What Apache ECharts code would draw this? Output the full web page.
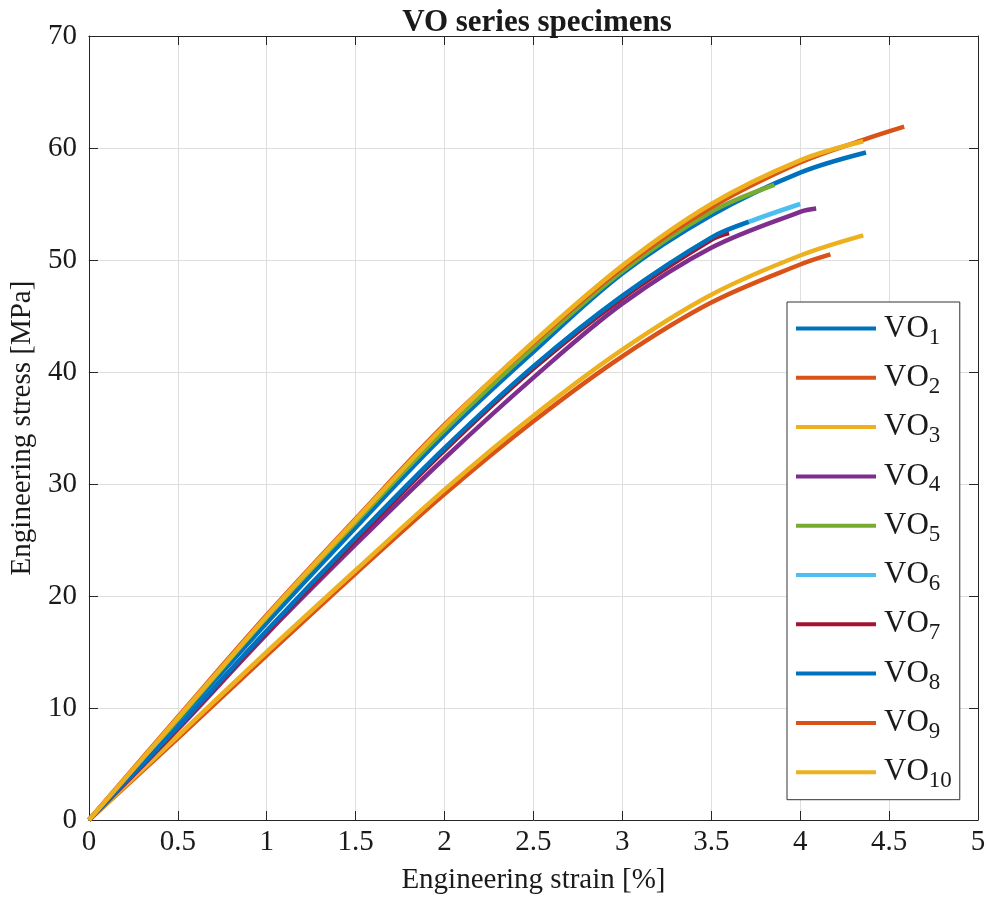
<!DOCTYPE html>
<html>
<head>
<meta charset="utf-8">
<title>VO series specimens</title>
<script src="https://cdn.jsdelivr.net/npm/echarts@6/dist/echarts.min.js"></script>
<style>
  html, body { margin: 0; padding: 0; background: #fff; }
  #chart { width: 989px; height: 903px; }
</style>
</head>
<body>
<div id="chart"></div>
<script>
// Tensile test curves of the VO specimen series (strain in %, stress in MPa)
const specimenNames = ['1', '2', '3', '4', '5', '6', '7', '8', '9', '10'];

const strainVO1 = [0, 0.5, 1, 1.5, 2, 2.5, 3, 3.5, 4, 4.37];
const stressVO1 = [0, 8.8, 17.6, 26.1, 34.4, 41.8, 48.8, 54.0, 57.8, 59.6];

const strainVO2 = [0, 0.5, 1, 1.5, 2, 2.5, 3, 3.5, 4, 4.17];
const stressVO2 = [0, 7.3, 14.7, 22.0, 29.1, 35.6, 41.4, 46.2, 49.6, 50.5];

const strainVO3 = [0, 0.5, 1, 1.5, 2, 2.5, 3, 3.5, 4, 4.355];
const stressVO3 = [0, 7.5, 15.0, 22.3, 29.5, 36.1, 42.0, 46.9, 50.4, 52.2];

const strainVO4 = [0, 0.5, 1, 1.5, 2, 2.5, 3, 3.5, 4, 4.09];
const stressVO4 = [0, 8.1, 16.6, 24.6, 32.3, 39.5, 46.1, 51.1, 54.3, 54.6];

const strainVO5 = [0, 0.5, 1, 1.5, 2, 2.5, 3, 3.5, 3.855];
const stressVO5 = [0, 9.0, 18.1, 26.6, 34.8, 42.2, 49.0, 54.3, 56.7];

const strainVO6 = [0, 0.5, 1, 1.5, 2, 2.5, 3, 3.5, 3.71, 4.0];
const stressVO6 = [0, 8.3, 16.9, 25.2, 33.2, 40.5, 46.8, 52.0, 53.4, 55.0];

const strainVO7 = [0, 0.5, 1, 1.5, 2, 2.5, 3, 3.5, 3.6];
const stressVO7 = [0, 8.2, 16.8, 25.0, 33.0, 40.3, 46.6, 51.8, 52.4];

const strainVO8 = [0, 0.5, 1, 1.5, 2, 2.5, 3, 3.5, 3.71];
const stressVO8 = [0, 8.3, 16.9, 25.2, 33.2, 40.5, 46.8, 52.0, 53.4];

const strainVO9 = [0, 0.5, 1, 1.5, 2, 2.5, 3, 3.5, 4, 4.35, 4.585];
const stressVO9 = [0, 9.2, 18.3, 26.9, 35.3, 42.6, 49.3, 54.7, 58.7, 60.7, 61.9];

const strainVO10 = [0, 0.5, 1, 1.5, 2, 2.5, 3, 3.5, 4, 4.355];
const stressVO10 = [0, 9.1, 18.2, 26.8, 35.2, 42.7, 49.5, 55.0, 58.9, 60.6];

const strainTicks = [0, 0.5, 1, 1.5, 2, 2.5, 3, 3.5, 4, 4.5, 5];
const stressTicks = [0, 10, 20, 30, 40, 50, 60, 70];

// MATLAB-style default line colours, cycling after seven
const lineColors = ['#0072BD', '#D95319', '#EDB120', '#7E2F8E', '#77AC30',
                    '#4DBEEE', '#A2142F', '#0072BD', '#D95319', '#EDB120'];

const strainSets = [strainVO1, strainVO2, strainVO3, strainVO4, strainVO5,
                    strainVO6, strainVO7, strainVO8, strainVO9, strainVO10];
const stressSets = [stressVO1, stressVO2, stressVO3, stressVO4, stressVO5,
                    stressVO6, stressVO7, stressVO8, stressVO9, stressVO10];

const FONT = '"Liberation Serif", "Times New Roman", serif';
const INK = '#1a1a1a';
const AXIS = '#262626';

const series = specimenNames.map((n, i) => ({
  name: 'VO' + n,
  type: 'line',
  xAxisIndex: 0,
  yAxisIndex: 0,
  data: strainSets[i].map((s, k) => [s, stressSets[i][k]]),
  showSymbol: false,
  symbol: 'none',
  smooth: 0.35,
  lineStyle: { width: 4.5, color: lineColors[i], cap: 'butt' },
  itemStyle: { color: lineColors[i] },
  emphasis: { disabled: true },
  animation: false
}));

const baseAxis = {
  axisLine: { show: true, onZero: false, lineStyle: { color: AXIS, width: 1 } },
  axisTick: { show: true, inside: true, length: 9, lineStyle: { color: AXIS, width: 1 } },
  splitLine: { show: false },
  axisLabel: { show: false }
};

const option = {
  backgroundColor: '#ffffff',
  animation: false,
  title: {
    text: 'VO series specimens',
    left: 532,
    textAlign: 'center',
    top: 2,
    textStyle: { fontFamily: FONT, fontSize: 31, fontWeight: 'bold', color: INK }
  },
  grid: { left: 87, right: 11, top: 36, bottom: 83, containLabel: false },
  xAxis: [
    Object.assign({}, baseAxis, {
      type: 'value', position: 'bottom', min: 0, max: 5, interval: 0.5,
      name: 'Engineering strain [%]', nameLocation: 'middle', nameGap: 46,
      nameTextStyle: { fontFamily: FONT, fontSize: 29, color: INK },
      splitLine: { show: true, lineStyle: { color: '#dedede', width: 1 } },
      axisLabel: {
        show: true, margin: 8, fontFamily: FONT, fontSize: 29, color: INK,
        formatter: v => strainTicks.includes(v) ? String(v) : ''
      }
    }),
    Object.assign({}, baseAxis, {
      type: 'value', position: 'top', min: 0, max: 5, interval: 0.5
    })
  ],
  yAxis: [
    Object.assign({}, baseAxis, {
      type: 'value', position: 'left', min: 0, max: 70, interval: 10,
      name: 'Engineering stress [MPa]', nameLocation: 'middle', nameGap: 50,
      nameTextStyle: { fontFamily: FONT, fontSize: 29, color: INK },
      splitLine: { show: true, lineStyle: { color: '#dedede', width: 1 } },
      axisLabel: {
        show: true, margin: 12, fontFamily: FONT, fontSize: 29, color: INK,
        formatter: v => stressTicks.includes(v) ? String(v) : ''
      }
    }),
    Object.assign({}, baseAxis, {
      type: 'value', position: 'right', min: 0, max: 70, interval: 10
    })
  ],
  legend: {
    orient: 'vertical',
    left: 787,
    top: 302,
    padding: [6, 8, 7, 9],
    itemGap: 8.3,
    itemWidth: 80,
    itemHeight: 4,
    icon: 'rect',
    backgroundColor: '#ffffff',
    borderColor: '#333333',
    borderWidth: 1,
    borderRadius: 0,
    selectedMode: false,
    data: specimenNames.map(n => 'VO' + n),
    formatter: name => '{a|VO}{b|' + name.slice(2) + '}',
    textStyle: {
      fontFamily: FONT, color: INK,
      rich: {
        a: { fontFamily: FONT, fontSize: 31, color: INK, padding: [0, 0, 0, 3], lineHeight: 30 },
        b: { fontFamily: FONT, fontSize: 23, color: INK, padding: [18, 0, 0, 0], lineHeight: 22 }
      }
    }
  },
  series: series
};

const chart = echarts.init(document.getElementById('chart'), null, { renderer: 'canvas' });
chart.setOption(option);
</script>
</body>
</html>
